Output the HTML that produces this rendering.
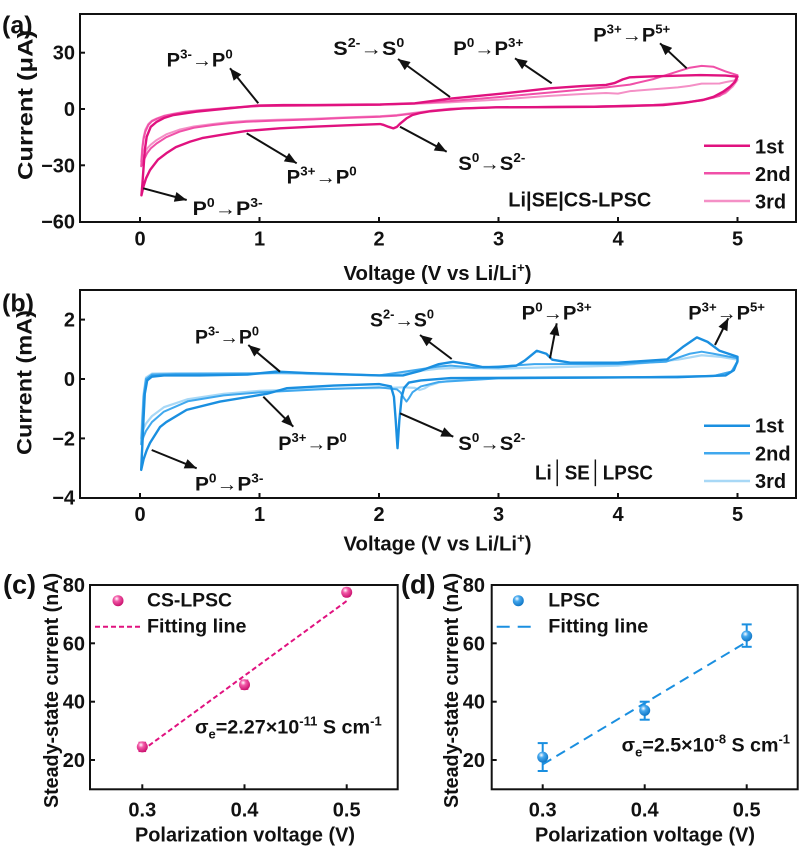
<!DOCTYPE html>
<html><head><meta charset="utf-8">
<style>
html,body{margin:0;padding:0;background:#fff;}
svg{display:block;}
text{font-family:"Liberation Sans",Arial,sans-serif;font-weight:bold;fill:#111;}
.tk{font-size:20px;}
.an{font-size:19px;}
.sm{font-size:12.5px;}
.ar{font-weight:normal;}
.crv{fill:none;stroke-linejoin:round;stroke-linecap:round;}
</style></head><body>
<svg width="800" height="849" viewBox="0 0 800 849" xmlns="http://www.w3.org/2000/svg">
<defs>
<marker id="ah" viewBox="0 0 12 10" refX="12" refY="5" markerWidth="13" markerHeight="10" markerUnits="userSpaceOnUse" orient="auto"><path d="M0,0 L12,5 L0,10 z" fill="#111"/></marker>
<radialGradient id="gp" cx="0.38" cy="0.32" r="0.7"><stop offset="0" stop-color="#ffffff"/><stop offset="0.35" stop-color="#f25aa8"/><stop offset="1" stop-color="#c80f6c"/></radialGradient>
<radialGradient id="gb" cx="0.38" cy="0.32" r="0.7"><stop offset="0" stop-color="#ffffff"/><stop offset="0.35" stop-color="#45a8ee"/><stop offset="1" stop-color="#0f75c4"/></radialGradient>
</defs>

<!-- ================= PANEL A ================= -->
<rect x="80" y="14" width="716" height="208" fill="none" stroke="#111" stroke-width="2"/>
<g stroke="#111" stroke-width="2">
<line x1="140" y1="222" x2="140" y2="217"/><line x1="259.5" y1="222" x2="259.5" y2="217"/><line x1="379" y1="222" x2="379" y2="217"/><line x1="498.5" y1="222" x2="498.5" y2="217"/><line x1="618" y1="222" x2="618" y2="217"/><line x1="737.5" y1="222" x2="737.5" y2="217"/>
<line x1="80" y1="52.7" x2="85" y2="52.7"/><line x1="80" y1="109" x2="85" y2="109"/><line x1="80" y1="165.3" x2="85" y2="165.3"/>
</g>
<g text-anchor="end">
<text x="75" y="59.7" class="tk">30</text><text x="75" y="116" class="tk">0</text><text x="75" y="172.3" class="tk">−30</text><text x="75" y="228.7" class="tk">−60</text>
</g>
<g text-anchor="middle">
<text x="140" y="245.5" class="tk">0</text><text x="259.5" y="245.5" class="tk">1</text><text x="379" y="245.5" class="tk">2</text><text x="498.5" y="245.5" class="tk">3</text><text x="618" y="245.5" class="tk">4</text><text x="737.5" y="245.5" class="tk">5</text>
</g>
<text x="437.5" y="280" text-anchor="middle" font-size="20" textLength="188" lengthAdjust="spacingAndGlyphs">Voltage (V vs Li/Li<tspan font-size="13" dy="-8">+</tspan><tspan dy="8">)</tspan></text>
<text transform="translate(32.5,105) rotate(-90)" text-anchor="middle" font-size="21" textLength="150" lengthAdjust="spacingAndGlyphs">Current (μA)</text>
<text x="2" y="33.5" font-size="25">(a)</text>

<g transform="matrix(119.5,0,0,-1.877,140,109)">
<polyline class="crv" stroke="#f490c6" stroke-width="2" vector-effect="non-scaling-stroke" points="5,15.5 4.96,12 4.9,8.5 4.8,6 4.6,3.8 4.3,2.2 3.8,1.3 3,0.9 2.6,0.2 2.45,-0.8 2.3,-2 2.15,-3.2 2.01,-3.8 1.7,-4.5 1.45,-5.2 1.15,-5.7 0.89,-6.3 0.75,-7 0.61,-8 0.45,-9.3 0.33,-11 0.22,-13.5 0.14,-16.5 0.09,-19 0.06,-21 0.03,-25 0.01,-28 0.015,-24 0.02,-20 0.03,-15 0.045,-11 0.07,-8 0.1,-6.2 0.14,-5 0.2,-3.6 0.28,-2.5 0.38,-1.4 0.5,-0.6 0.75,0.7 1,1.5 1.5,1.8 2,2.2 2.3,2.8 2.59,3.5 3,5 3.43,7 3.7,8 3.9,8.5 4.0,8.2 4.1,9.5 4.3,10.5 4.5,11.5 4.6,12.3 4.7,13.5 4.85,13.6 4.9,14.3 5,15.5"/>
<polyline class="crv" stroke="#f050a8" stroke-width="2" vector-effect="non-scaling-stroke" points="5,18 4.97,14 4.92,10 4.85,7 4.7,4.5 4.4,2.3 3.8,1.3 3,0.9 2.6,0 2.45,-1 2.3,-2.3 2.15,-3.5 2.01,-4.1 1.7,-4.8 1.45,-5.5 1.15,-6.1 0.89,-6.8 0.75,-7.5 0.61,-8.5 0.45,-10 0.33,-12.1 0.22,-15 0.14,-18.3 0.09,-21 0.06,-23.5 0.03,-27.5 0.01,-30.5 0.015,-26 0.02,-21 0.03,-16 0.045,-12 0.07,-8.5 0.1,-6.5 0.14,-5.3 0.2,-3.8 0.28,-2.7 0.38,-1.6 0.5,-0.8 0.75,0.6 1,1.6 1.5,1.9 2,2.3 2.3,3 2.59,4.2 3,6.3 3.43,8.8 3.9,11.5 4.1,13 4.3,16 4.45,19 4.6,22 4.7,23 4.8,22.5 4.9,20 5,18"/>
<polyline class="crv" stroke="#e0127f" stroke-width="2.4" vector-effect="non-scaling-stroke" points="5,17.2 4.98,14.5 4.94,12 4.88,9.2 4.8,6.5 4.71,4.8 4.55,3.2 4.38,2.1 4.1,1.6 3.82,1.2 3.4,1 2.98,0.9 2.7,0.3 2.55,-0.5 2.43,-1.2 2.34,-2.2 2.28,-3.2 2.23,-5 2.18,-7.6 2.15,-9.5 2.12,-10.3 2.08,-9.5 2.04,-8.5 2.01,-8 1.73,-8.7 1.45,-9.4 1.17,-10.3 0.89,-11.7 0.67,-13.9 0.52,-15.5 0.42,-17.4 0.3,-20.3 0.22,-23.6 0.15,-27 0.084,-32.5 0.05,-37 0.03,-41 0.012,-46 0.02,-40 0.03,-31 0.04,-22 0.056,-14.8 0.09,-9.5 0.14,-6.8 0.2,-4.8 0.28,-3.2 0.47,-1.4 0.75,0.4 0.98,1.8 1.2,2.1 1.45,2.1 2.01,2.4 2.3,3 2.59,5.5 3,8 3.43,11 3.7,12.2 3.9,12.8 3.97,13.8 4.04,15.8 4.1,16.9 4.3,17.4 4.69,18.1 4.9,17.8 5,17.2"/>
</g>

<g stroke="#111" stroke-width="2" marker-end="url(#ah)">
<line x1="258.3" y1="103.3" x2="230" y2="68.3"/>
<line x1="246.7" y1="133.3" x2="296.7" y2="163.3"/>
<line x1="143.3" y1="188.3" x2="186.7" y2="200"/>
<line x1="450" y1="97" x2="398" y2="59"/>
<line x1="551.7" y1="83.3" x2="515" y2="58.3"/>
<line x1="686.7" y1="68.3" x2="660" y2="43.3"/>
<line x1="400" y1="126.7" x2="446.7" y2="151.7"/>
</g>
<text x="166.7" y="66.7" class="an" textLength="66" lengthAdjust="spacingAndGlyphs">P<tspan class="sm" dy="-8">3-</tspan><tspan class="ar" dy="8">→</tspan>P<tspan class="sm" dy="-8">0</tspan></text>
<text x="286.7" y="183.3" class="an" textLength="70" lengthAdjust="spacingAndGlyphs">P<tspan class="sm" dy="-8">3+</tspan><tspan class="ar" dy="8">→</tspan>P<tspan class="sm" dy="-8">0</tspan></text>
<text x="192.7" y="215" class="an" textLength="70" lengthAdjust="spacingAndGlyphs">P<tspan class="sm" dy="-8">0</tspan><tspan class="ar" dy="8">→</tspan>P<tspan class="sm" dy="-8">3-</tspan></text>
<text x="333.3" y="55" class="an" textLength="71" lengthAdjust="spacingAndGlyphs">S<tspan class="sm" dy="-8">2-</tspan><tspan class="ar" dy="8">→</tspan>S<tspan class="sm" dy="-8">0</tspan></text>
<text x="453.3" y="55" class="an" textLength="70" lengthAdjust="spacingAndGlyphs">P<tspan class="sm" dy="-8">0</tspan><tspan class="ar" dy="8">→</tspan>P<tspan class="sm" dy="-8">3+</tspan></text>
<text x="593.3" y="41.7" class="an" textLength="77" lengthAdjust="spacingAndGlyphs">P<tspan class="sm" dy="-8">3+</tspan><tspan class="ar" dy="8">→</tspan>P<tspan class="sm" dy="-8">5+</tspan></text>
<text x="458.3" y="170" class="an" textLength="67" lengthAdjust="spacingAndGlyphs">S<tspan class="sm" dy="-8">0</tspan><tspan class="ar" dy="8">→</tspan>S<tspan class="sm" dy="-8">2-</tspan></text>
<text x="508.3" y="206.7" font-size="20" textLength="143" lengthAdjust="spacingAndGlyphs">Li|SE|CS-LPSC</text>
<line x1="704" y1="145.7" x2="750" y2="145.7" stroke="#e0127f" stroke-width="2.5"/>
<line x1="704" y1="173.3" x2="750" y2="173.3" stroke="#f050a8" stroke-width="2.5"/>
<line x1="704" y1="201" x2="750" y2="201" stroke="#f490c6" stroke-width="2.5"/>
<text x="755" y="153.3" font-size="20">1st</text>
<text x="755" y="181" font-size="20">2nd</text>
<text x="755" y="208.7" font-size="20">3rd</text>

<!-- ================= PANEL B ================= -->
<rect x="80" y="290" width="716" height="208" fill="none" stroke="#111" stroke-width="2"/>
<g stroke="#111" stroke-width="2">
<line x1="140" y1="498" x2="140" y2="493"/><line x1="259.5" y1="498" x2="259.5" y2="493"/><line x1="379" y1="498" x2="379" y2="493"/><line x1="498.5" y1="498" x2="498.5" y2="493"/><line x1="618" y1="498" x2="618" y2="493"/><line x1="737.5" y1="498" x2="737.5" y2="493"/>
<line x1="80" y1="319.6" x2="85" y2="319.6"/><line x1="80" y1="379" x2="85" y2="379"/><line x1="80" y1="438.4" x2="85" y2="438.4"/>
</g>
<g text-anchor="end">
<text x="75" y="326.5" class="tk">2</text><text x="75" y="386" class="tk">0</text><text x="75" y="445.4" class="tk">−2</text><text x="75" y="504.6" class="tk">−4</text>
</g>
<g text-anchor="middle">
<text x="140" y="521" class="tk">0</text><text x="259.5" y="521" class="tk">1</text><text x="379" y="521" class="tk">2</text><text x="498.5" y="521" class="tk">3</text><text x="618" y="521" class="tk">4</text><text x="737.5" y="521" class="tk">5</text>
</g>
<text x="437.5" y="550.5" text-anchor="middle" font-size="20" textLength="188" lengthAdjust="spacingAndGlyphs">Voltage (V vs Li/Li<tspan font-size="13" dy="-8">+</tspan><tspan dy="8">)</tspan></text>
<text transform="translate(31.5,382.5) rotate(-90)" text-anchor="middle" font-size="21" textLength="145" lengthAdjust="spacingAndGlyphs">Current (mA)</text>
<text x="2" y="311.5" font-size="25">(b)</text>

<g transform="matrix(119.5,0,0,-29.7,140,379)">
<polyline class="crv" stroke="#a8d8f6" stroke-width="2.2" vector-effect="non-scaling-stroke" points="5,0.55 4.95,0.25 4.8,0.1 4,0.05 3,0.03 2.6,-0.05 2.5,-0.12 2.42,-0.22 2.38,-0.32 2.34,-0.37 2.3,-0.3 2.2,-0.28 2.1,-0.3 1.5,-0.33 1,-0.4 0.7,-0.5 0.4,-0.68 0.2,-0.95 0.1,-1.25 0.05,-1.5 0.02,-1.75 0.01,-2 0.015,-1.6 0.02,-1.2 0.03,-0.5 0.05,0.05 0.1,0.18 0.3,0.2 1,0.2 1.3,0.18 2,0.12 2.3,0.25 2.5,0.35 2.7,0.38 3,0.35 3.5,0.4 4,0.45 4.5,0.65 4.7,0.8 4.85,0.75 5,0.65 5,0.55"/>
<polyline class="crv" stroke="#40a8ee" stroke-width="2" vector-effect="non-scaling-stroke" points="5,0.6 4.95,0.25 4.8,0.1 4,0.05 3,0.02 2.5,-0.1 2.35,-0.25 2.28,-0.45 2.25,-0.65 2.23,-0.76 2.21,-0.65 2.18,-0.45 2.15,-0.35 2,-0.28 1.5,-0.35 1,-0.45 0.7,-0.55 0.4,-0.75 0.2,-1.1 0.1,-1.45 0.05,-1.75 0.03,-1.94 0.01,-2.2 0.015,-1.8 0.02,-1.4 0.03,-0.6 0.05,0 0.1,0.15 0.3,0.17 1,0.18 1.2,0.22 2,0.12 2.3,0.3 2.5,0.42 2.6,0.45 2.8,0.38 3,0.42 3.3,0.5 3.5,0.5 4,0.5 4.4,0.58 4.6,0.85 4.7,0.92 4.8,0.85 5,0.7 5,0.6"/>
<polyline class="crv" stroke="#1a8fe0" stroke-width="2.4" vector-effect="non-scaling-stroke" points="5,0.6 4.97,0.3 4.9,0.12 4.5,0.06 3.5,0.05 2.6,0.03 2.35,-0.05 2.25,-0.12 2.21,-0.3 2.19,-0.6 2.17,-1.4 2.155,-2.33 2.14,-1.4 2.125,-0.6 2.1,-0.25 2,-0.17 1.62,-0.22 1.23,-0.31 1.15,-0.4 1.06,-0.5 0.67,-0.76 0.39,-1.04 0.22,-1.45 0.167,-1.62 0.084,-2.15 0.056,-2.4 0.03,-2.7 0.01,-3.06 0.015,-2.6 0.02,-2.2 0.03,-1.3 0.04,-0.5 0.06,-0.05 0.1,0.08 0.2,0.12 0.5,0.12 0.9,0.15 1.14,0.25 1.4,0.2 2,0.12 2.2,0.12 2.35,0.28 2.5,0.5 2.62,0.58 2.75,0.5 2.87,0.4 3,0.4 3.15,0.45 3.22,0.62 3.32,0.95 3.4,0.85 3.45,0.65 3.6,0.55 4,0.55 4.41,0.66 4.55,1.1 4.66,1.4 4.75,1.25 4.85,0.95 5,0.75 5,0.6"/>
</g>

<g stroke="#111" stroke-width="2" marker-end="url(#ah)">
<line x1="280" y1="371.7" x2="248.3" y2="345"/>
<line x1="263.3" y1="396.7" x2="293.3" y2="426.7"/>
<line x1="151.7" y1="450" x2="196.7" y2="468.3"/>
<line x1="451.7" y1="359" x2="420" y2="335"/>
<line x1="550" y1="358.3" x2="556.7" y2="323.3"/>
<line x1="715" y1="345" x2="728.3" y2="318.3"/>
<line x1="400" y1="413.3" x2="453.3" y2="436.7"/>
</g>
<text x="195" y="343.3" class="an" textLength="64" lengthAdjust="spacingAndGlyphs">P<tspan class="sm" dy="-8">3-</tspan><tspan class="ar" dy="8">→</tspan>P<tspan class="sm" dy="-8">0</tspan></text>
<text x="278.3" y="450" class="an" textLength="68.5" lengthAdjust="spacingAndGlyphs">P<tspan class="sm" dy="-8">3+</tspan><tspan class="ar" dy="8">→</tspan>P<tspan class="sm" dy="-8">0</tspan></text>
<text x="195" y="490.7" class="an" textLength="68.5" lengthAdjust="spacingAndGlyphs">P<tspan class="sm" dy="-8">0</tspan><tspan class="ar" dy="8">→</tspan>P<tspan class="sm" dy="-8">3-</tspan></text>
<text x="370" y="326.7" class="an" textLength="64" lengthAdjust="spacingAndGlyphs">S<tspan class="sm" dy="-8">2-</tspan><tspan class="ar" dy="8">→</tspan>S<tspan class="sm" dy="-8">0</tspan></text>
<text x="521.7" y="319.3" class="an" textLength="70" lengthAdjust="spacingAndGlyphs">P<tspan class="sm" dy="-8">0</tspan><tspan class="ar" dy="8">→</tspan>P<tspan class="sm" dy="-8">3+</tspan></text>
<text x="688.3" y="319.3" class="an" textLength="76.7" lengthAdjust="spacingAndGlyphs">P<tspan class="sm" dy="-8">3+</tspan><tspan class="ar" dy="8">→</tspan>P<tspan class="sm" dy="-8">5+</tspan></text>
<text x="458.3" y="450" class="an" textLength="67" lengthAdjust="spacingAndGlyphs">S<tspan class="sm" dy="-8">0</tspan><tspan class="ar" dy="8">→</tspan>S<tspan class="sm" dy="-8">2-</tspan></text>
<text x="535" y="479.3" font-size="20" textLength="118" lengthAdjust="spacingAndGlyphs">Li<tspan font-weight="normal" font-size="22">│</tspan>SE<tspan font-weight="normal" font-size="22">│</tspan>LPSC</text>
<line x1="704" y1="425.7" x2="750" y2="425.7" stroke="#1a8fe0" stroke-width="2.5"/>
<line x1="704" y1="453.3" x2="750" y2="453.3" stroke="#40a8ee" stroke-width="2.5"/>
<line x1="704" y1="481" x2="750" y2="481" stroke="#a8d8f6" stroke-width="2.5"/>
<text x="755" y="432.7" font-size="20">1st</text>
<text x="755" y="460.3" font-size="20">2nd</text>
<text x="755" y="488" font-size="20">3rd</text>

<!-- ================= PANEL C ================= -->
<rect x="90" y="585" width="307.7" height="204.3" fill="none" stroke="#111" stroke-width="2"/>
<g stroke="#111" stroke-width="2">
<line x1="142.3" y1="789.3" x2="142.3" y2="784.3"/><line x1="244.5" y1="789.3" x2="244.5" y2="784.3"/><line x1="346.7" y1="789.3" x2="346.7" y2="784.3"/>
<line x1="90" y1="643.3" x2="95" y2="643.3"/><line x1="90" y1="701.7" x2="95" y2="701.7"/><line x1="90" y1="760" x2="95" y2="760"/>
</g>
<g text-anchor="end">
<text x="85" y="592" class="tk">80</text><text x="85" y="650.3" class="tk">60</text><text x="85" y="708.7" class="tk">40</text><text x="85" y="767" class="tk">20</text>
</g>
<g text-anchor="middle">
<text x="142.3" y="816.5" class="tk">0.3</text><text x="244.5" y="816.5" class="tk">0.4</text><text x="346.7" y="816.5" class="tk">0.5</text>
</g>
<text x="245" y="841.5" text-anchor="middle" font-size="20" textLength="220" lengthAdjust="spacingAndGlyphs">Polarization voltage (V)</text>
<text transform="translate(58,690.5) rotate(-90)" text-anchor="middle" font-size="20" textLength="235" lengthAdjust="spacingAndGlyphs">Steady-state current (nA)</text>
<text x="3" y="593.5" font-size="27">(c)</text>

<line x1="142.3" y1="750.4" x2="346.7" y2="601" stroke="#e0127f" stroke-width="2" stroke-dasharray="5 3"/>
<g stroke="#e0127f" stroke-width="1.5">
<line x1="142.3" y1="742.5" x2="142.3" y2="751.3"/><line x1="138.5" y1="742.5" x2="146.1" y2="742.5"/><line x1="138.5" y1="751.3" x2="146.1" y2="751.3"/>
<line x1="244.5" y1="680.3" x2="244.5" y2="689.1"/><line x1="240.7" y1="680.3" x2="248.3" y2="680.3"/><line x1="240.7" y1="689.1" x2="248.3" y2="689.1"/>
<line x1="346.7" y1="588.5" x2="346.7" y2="596.1"/><line x1="342.9" y1="588.5" x2="350.5" y2="588.5"/><line x1="342.9" y1="596.1" x2="350.5" y2="596.1"/>
</g>
<circle cx="142.3" cy="746.9" r="5.5" fill="url(#gp)"/>
<circle cx="244.5" cy="684.7" r="5.5" fill="url(#gp)"/>
<circle cx="346.7" cy="592.3" r="5.5" fill="url(#gp)"/>
<circle cx="118" cy="600.7" r="5.5" fill="url(#gp)"/>
<text x="147" y="606.7" font-size="19" textLength="85" lengthAdjust="spacingAndGlyphs">CS-LPSC</text>
<line x1="95" y1="626.7" x2="142" y2="626.7" stroke="#e0127f" stroke-width="2" stroke-dasharray="5 3"/>
<text x="147" y="632.5" font-size="19.5" textLength="99.5" lengthAdjust="spacingAndGlyphs">Fitting line</text>
<text x="195" y="733.3" class="an" textLength="186.7" lengthAdjust="spacingAndGlyphs">σ<tspan class="sm" dy="5">e</tspan><tspan dy="-5">=2.27×10</tspan><tspan class="sm" dy="-8">-11</tspan><tspan dy="8"> S cm</tspan><tspan class="sm" dy="-8">-1</tspan></text>

<!-- ================= PANEL D ================= -->
<rect x="491.7" y="585" width="306" height="204.3" fill="none" stroke="#111" stroke-width="2"/>
<g stroke="#111" stroke-width="2">
<line x1="542.7" y1="789.3" x2="542.7" y2="784.3"/><line x1="644.7" y1="789.3" x2="644.7" y2="784.3"/><line x1="746.7" y1="789.3" x2="746.7" y2="784.3"/>
<line x1="491.7" y1="643.3" x2="496.7" y2="643.3"/><line x1="491.7" y1="701.7" x2="496.7" y2="701.7"/><line x1="491.7" y1="760" x2="496.7" y2="760"/>
</g>
<g text-anchor="end">
<text x="485" y="592" class="tk">80</text><text x="485" y="650.3" class="tk">60</text><text x="485" y="708.7" class="tk">40</text><text x="485" y="767" class="tk">20</text>
</g>
<g text-anchor="middle">
<text x="542.7" y="816.5" class="tk">0.3</text><text x="644.7" y="816.5" class="tk">0.4</text><text x="746.7" y="816.5" class="tk">0.5</text>
</g>
<text x="645" y="841.5" text-anchor="middle" font-size="20" textLength="220" lengthAdjust="spacingAndGlyphs">Polarization voltage (V)</text>
<text transform="translate(458,690.5) rotate(-90)" text-anchor="middle" font-size="20" textLength="235" lengthAdjust="spacingAndGlyphs">Steady-state current (nA)</text>
<text x="401" y="593.5" font-size="27">(d)</text>

<line x1="542.7" y1="764.4" x2="746.7" y2="641.9" stroke="#1a8fe0" stroke-width="2" stroke-dasharray="10 6"/>
<g stroke="#1a8fe0" stroke-width="2">
<line x1="542.7" y1="743.1" x2="542.7" y2="771"/><line x1="537.7" y1="743.1" x2="547.7" y2="743.1"/><line x1="537.7" y1="771" x2="547.7" y2="771"/>
<line x1="644.7" y1="701.7" x2="644.7" y2="719.7"/><line x1="639.7" y1="701.7" x2="649.7" y2="701.7"/><line x1="639.7" y1="719.7" x2="649.7" y2="719.7"/>
<line x1="746.7" y1="624.4" x2="746.7" y2="646.8"/><line x1="741.7" y1="624.4" x2="751.7" y2="624.4"/><line x1="741.7" y1="646.8" x2="751.7" y2="646.8"/>
</g>
<circle cx="542.7" cy="757.1" r="5.5" fill="url(#gb)"/>
<circle cx="644.7" cy="710.4" r="5.5" fill="url(#gb)"/>
<circle cx="746.7" cy="636" r="5.5" fill="url(#gb)"/>
<circle cx="518.3" cy="600.7" r="5.5" fill="url(#gb)"/>
<text x="548.3" y="606.7" font-size="19" textLength="51.7" lengthAdjust="spacingAndGlyphs">LPSC</text>
<line x1="496.7" y1="626.7" x2="532" y2="626.7" stroke="#1a8fe0" stroke-width="2" stroke-dasharray="13 8"/>
<text x="548.3" y="632.5" font-size="19.5" textLength="100" lengthAdjust="spacingAndGlyphs">Fitting line</text>
<text x="621.7" y="751.7" class="an" textLength="168.3" lengthAdjust="spacingAndGlyphs">σ<tspan class="sm" dy="5">e</tspan><tspan dy="-5">=2.5×10</tspan><tspan class="sm" dy="-8">-8</tspan><tspan dy="8"> S cm</tspan><tspan class="sm" dy="-8">-1</tspan></text>
</svg>
</body></html>
